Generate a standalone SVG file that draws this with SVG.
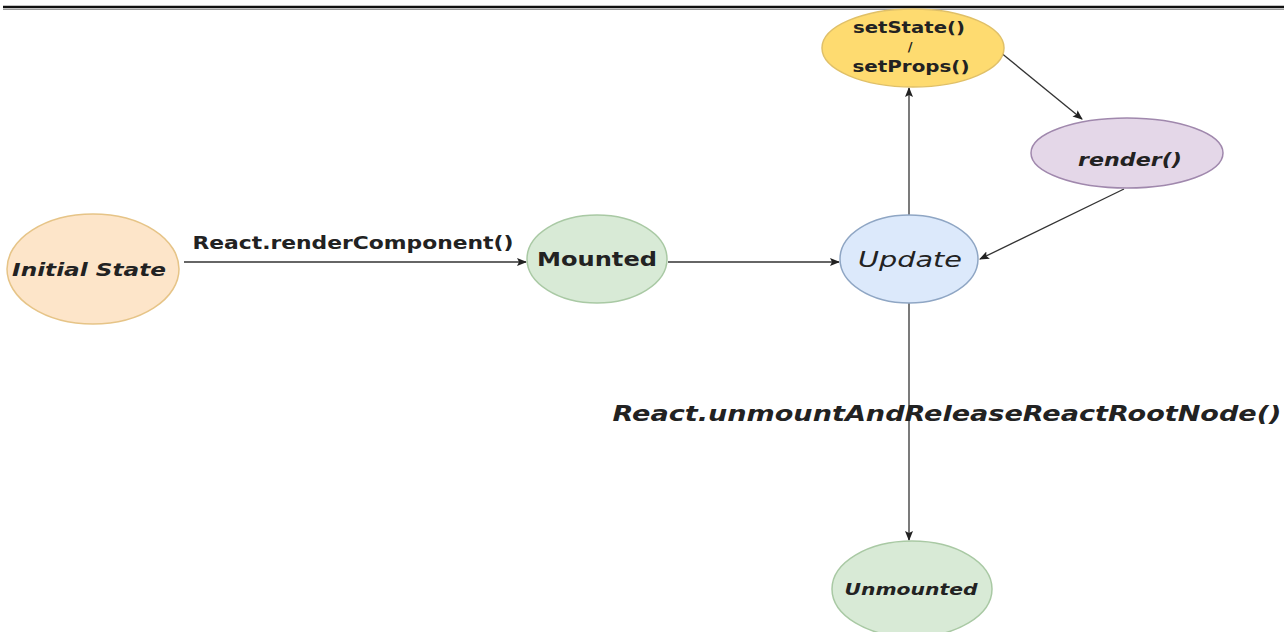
<svg xmlns="http://www.w3.org/2000/svg" width="1284" height="632" viewBox="0 0 1284 632">
<defs>
<style>
.t{font-family:"DejaVu Sans","Liberation Sans",Arial,sans-serif;fill:#222;text-anchor:middle}
.b{font-weight:bold}
.i{font-style:italic}
.e{stroke-width:1.5}
.c{stroke:#333;stroke-width:1.3;fill:none;marker-end:url(#a)}
</style>
<marker id="a" viewBox="0 0 10 10" refX="9" refY="5" markerWidth="10" markerHeight="10" markerUnits="userSpaceOnUse" orient="auto">
<path d="M0,1 L10,5 L0,9 L2,5 Z" fill="#222"/>
</marker>
</defs>
<rect width="1284" height="632" fill="#fff"/>
<line x1="3" y1="7" x2="1284" y2="7" stroke="#111" stroke-width="2.5"/>
<line x1="3" y1="9.5" x2="1284" y2="9.5" stroke="#999" stroke-width="1"/>
<g id="connectors">
<line class="c" x1="184" y1="262" x2="526" y2="262"/>
<line class="c" x1="668" y1="262" x2="839" y2="262"/>
<line class="c" x1="909" y1="215" x2="909" y2="88"/>
<line class="c" x1="1000" y1="52" x2="1082" y2="119"/>
<line class="c" x1="1124" y1="189" x2="980" y2="259"/>
<line class="c" x1="909" y1="303" x2="909" y2="540"/>
<text class="t b" x="353" y="249" font-size="17" textLength="321" lengthAdjust="spacingAndGlyphs">React.renderComponent()</text>
<text class="t b i" x="947" y="421" font-size="21" textLength="669" lengthAdjust="spacingAndGlyphs">React.unmountAndReleaseReactRootNode()</text>
</g>
<g id="initial">
<ellipse class="e" cx="93" cy="269" rx="86" ry="55" fill="#fde5c9" stroke="#e6c487"/>
<text class="t b i" x="89" y="276" font-size="18" textLength="154" lengthAdjust="spacingAndGlyphs">Initial State</text>
</g>
<g id="mounted">
<ellipse class="e" cx="597" cy="259" rx="70" ry="44" fill="#d8ead6" stroke="#a9c9a4"/>
<text class="t b" x="597" y="266" font-size="20" textLength="120" lengthAdjust="spacingAndGlyphs">Mounted</text>
</g>
<g id="update">
<ellipse class="e" cx="909" cy="259" rx="69" ry="44" fill="#dce9fb" stroke="#8fa6c4"/>
<text class="t i" x="910" y="267" font-size="22" textLength="104" lengthAdjust="spacingAndGlyphs">Update</text>
</g>
<g id="setstate">
<ellipse class="e" cx="913" cy="48" rx="91" ry="39" fill="#fedb70" stroke="#e0c068"/>
<text class="t b" x="909" y="33" font-size="15" textLength="112" lengthAdjust="spacingAndGlyphs">setState()</text>
<text class="t b" x="910" y="51" font-size="13">/</text>
<text class="t b" x="911" y="72" font-size="16" textLength="117" lengthAdjust="spacingAndGlyphs">setProps()</text>
</g>
<g id="render">
<ellipse class="e" cx="1127" cy="153" rx="96" ry="35" fill="#e4d7e8" stroke="#a088ad"/>
<text class="t b i" x="1130" y="166" font-size="17" textLength="104" lengthAdjust="spacingAndGlyphs">render()</text>
</g>
<g id="unmounted">
<ellipse class="e" cx="912" cy="589" rx="80" ry="48" fill="#d8ead6" stroke="#a9c9a4"/>
<text class="t b i" x="911" y="595" font-size="16" textLength="133" lengthAdjust="spacingAndGlyphs">Unmounted</text>
</g>
</svg>
